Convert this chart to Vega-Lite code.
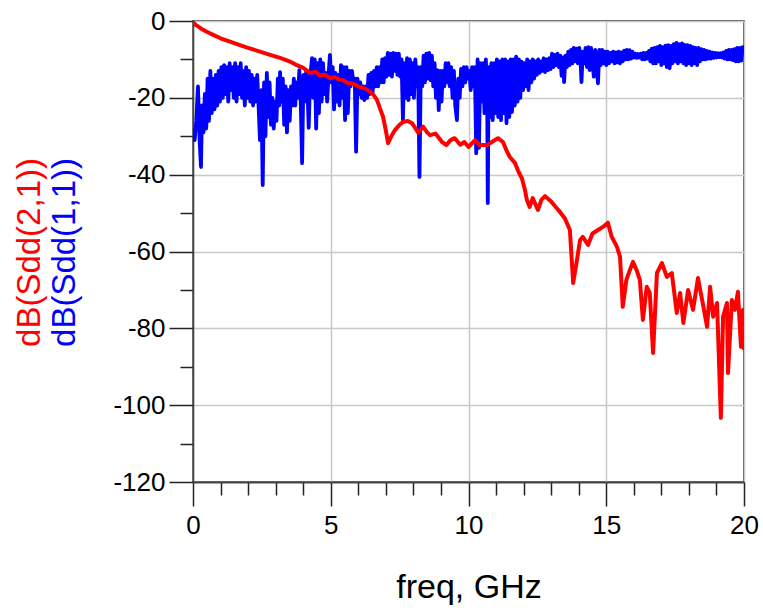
{
  "$schema": "https://vega.github.io/schema/vega-lite/v6.json",
  "width": 551,
  "height": 461,
  "autosize": {"type": "none"},
  "padding": {"left": 193, "top": 21, "right": 19, "bottom": 128},
  "background": "white",
  "config": {
    "font": "Liberation Sans",
    "view": {"stroke": "#222222", "strokeWidth": 1.5}
  },
  "datasets": {
    "s11": [
      {"f":0.00,"v":-28},{"f":0.06,"v":-31},{"f":0.12,"v":-26},{"f":0.18,"v":-17},{"f":0.24,"v":-31},{"f":0.29,"v":-38},{"f":0.33,"v":-22},{"f":0.38,"v":-29},{"f":0.43,"v":-19},{"f":0.48,"v":-28},
      {"f":0.53,"v":-15},{"f":0.58,"v":-26},{"f":0.63,"v":-13},{"f":0.68,"v":-24},{"f":0.73,"v":-15},{"f":0.78,"v":-23},{"f":0.83,"v":-14},{"f":0.88,"v":-22},{"f":0.93,"v":-13},{"f":0.98,"v":-21},
      {"f":1.03,"v":-12},{"f":1.08,"v":-20},{"f":1.13,"v":-11.5},{"f":1.18,"v":-19},{"f":1.23,"v":-12},{"f":1.28,"v":-21},{"f":1.33,"v":-11},{"f":1.38,"v":-18},{"f":1.43,"v":-12},{"f":1.48,"v":-20},
      {"f":1.53,"v":-11},{"f":1.58,"v":-21},{"f":1.63,"v":-12},{"f":1.68,"v":-19},{"f":1.73,"v":-11},{"f":1.78,"v":-20},{"f":1.83,"v":-13},{"f":1.88,"v":-22},{"f":1.93,"v":-12},{"f":1.98,"v":-20},
      {"f":2.03,"v":-13},{"f":2.08,"v":-21},{"f":2.13,"v":-14},{"f":2.18,"v":-22},{"f":2.23,"v":-15},{"f":2.28,"v":-21},{"f":2.33,"v":-14},{"f":2.38,"v":-22},{"f":2.43,"v":-31},{"f":2.48,"v":-18},
      {"f":2.53,"v":-42.7},{"f":2.58,"v":-16},{"f":2.63,"v":-30},{"f":2.68,"v":-13.5},{"f":2.73,"v":-25},{"f":2.78,"v":-16},{"f":2.83,"v":-27},{"f":2.88,"v":-20},{"f":2.93,"v":-28},{"f":2.98,"v":-21},
      {"f":3.03,"v":-26},{"f":3.08,"v":-15},{"f":3.13,"v":-22},{"f":3.16,"v":-13.3},{"f":3.21,"v":-21},{"f":3.26,"v":-15},{"f":3.31,"v":-27},{"f":3.36,"v":-17},{"f":3.41,"v":-29},{"f":3.46,"v":-18},
      {"f":3.51,"v":-26},{"f":3.56,"v":-17},{"f":3.61,"v":-22},{"f":3.66,"v":-15},{"f":3.71,"v":-22},{"f":3.76,"v":-16},{"f":3.81,"v":-20},{"f":3.86,"v":-12.8},{"f":3.91,"v":-21},{"f":3.96,"v":-37},
      {"f":4.01,"v":-14},{"f":4.06,"v":-21},{"f":4.11,"v":-13},{"f":4.16,"v":-19},{"f":4.20,"v":-27.8},{"f":4.25,"v":-15},{"f":4.32,"v":-9.7},{"f":4.37,"v":-20},{"f":4.42,"v":-10},{"f":4.47,"v":-28},
      {"f":4.52,"v":-11},{"f":4.57,"v":-24},{"f":4.62,"v":-10},{"f":4.67,"v":-21},{"f":4.72,"v":-11},{"f":4.77,"v":-19},{"f":4.82,"v":-13.5},{"f":4.87,"v":-21},{"f":4.92,"v":-14},{"f":4.97,"v":-8.8},
      {"f":5.02,"v":-16},{"f":5.07,"v":-12},{"f":5.12,"v":-23},{"f":5.17,"v":-13.5},{"f":5.22,"v":-21},{"f":5.27,"v":-14},{"f":5.32,"v":-22},{"f":5.37,"v":-11.5},{"f":5.42,"v":-20},{"f":5.47,"v":-12},
      {"f":5.52,"v":-25.8},{"f":5.57,"v":-12},{"f":5.62,"v":-24},{"f":5.67,"v":-13},{"f":5.72,"v":-17},{"f":5.77,"v":-13},{"f":5.82,"v":-16},{"f":5.87,"v":-15},{"f":5.92,"v":-34},{"f":5.97,"v":-15},
      {"f":6.02,"v":-19},{"f":6.07,"v":-16},{"f":6.12,"v":-20},{"f":6.17,"v":-17},{"f":6.22,"v":-20.6},{"f":6.27,"v":-17},{"f":6.32,"v":-20},{"f":6.37,"v":-14},{"f":6.42,"v":-19},{"f":6.47,"v":-13.5},
      {"f":6.52,"v":-18.5},{"f":6.57,"v":-13},{"f":6.62,"v":-17},{"f":6.67,"v":-12},{"f":6.72,"v":-17},{"f":6.77,"v":-12},{"f":6.82,"v":-16},{"f":6.87,"v":-10},{"f":6.92,"v":-16},{"f":6.97,"v":-9.7},
      {"f":7.02,"v":-14.5},{"f":7.07,"v":-8.3},{"f":7.12,"v":-14},{"f":7.17,"v":-8.5},{"f":7.22,"v":-14.5},{"f":7.27,"v":-8.3},{"f":7.32,"v":-13},{"f":7.37,"v":-8.5},{"f":7.42,"v":-14},{"f":7.47,"v":-8.5},
      {"f":7.52,"v":-14.5},{"f":7.57,"v":-10},{"f":7.62,"v":-25.8},{"f":7.67,"v":-11},{"f":7.72,"v":-20},{"f":7.77,"v":-9.7},{"f":7.82,"v":-20.6},{"f":7.87,"v":-10},{"f":7.92,"v":-19},{"f":7.97,"v":-11},
      {"f":8.02,"v":-20},{"f":8.07,"v":-10},{"f":8.12,"v":-17},{"f":8.17,"v":-12},{"f":8.22,"v":-40.6},{"f":8.27,"v":-12},{"f":8.32,"v":-17},{"f":8.37,"v":-9},{"f":8.42,"v":-16},{"f":8.47,"v":-8.5},
      {"f":8.52,"v":-15},{"f":8.57,"v":-8.3},{"f":8.62,"v":-15.4},{"f":8.67,"v":-9},{"f":8.72,"v":-17},{"f":8.77,"v":-11},{"f":8.82,"v":-20},{"f":8.87,"v":-12.8},{"f":8.92,"v":-23.2},{"f":8.97,"v":-13},
      {"f":9.02,"v":-21},{"f":9.07,"v":-13},{"f":9.12,"v":-17},{"f":9.17,"v":-11},{"f":9.22,"v":-16},{"f":9.27,"v":-11},{"f":9.32,"v":-17},{"f":9.37,"v":-12},{"f":9.42,"v":-20},{"f":9.47,"v":-13},
      {"f":9.52,"v":-22},{"f":9.58,"v":-25.8},{"f":9.63,"v":-15},{"f":9.68,"v":-20},{"f":9.73,"v":-12.5},{"f":9.78,"v":-17},{"f":9.83,"v":-12},{"f":9.88,"v":-16},{"f":9.93,"v":-12},{"f":9.98,"v":-15},
      {"f":10.03,"v":-13},{"f":10.08,"v":-18},{"f":10.13,"v":-12},{"f":10.18,"v":-17},{"f":10.23,"v":-12},{"f":10.28,"v":-34.4},{"f":10.33,"v":-10},{"f":10.38,"v":-33},{"f":10.43,"v":-11},{"f":10.48,"v":-21},
      {"f":10.53,"v":-11},{"f":10.58,"v":-24},{"f":10.63,"v":-10},{"f":10.68,"v":-22},{"f":10.70,"v":-47.4},{"f":10.73,"v":-12},{"f":10.78,"v":-25},{"f":10.83,"v":-11},{"f":10.88,"v":-25.8},{"f":10.93,"v":-11},
      {"f":10.98,"v":-24},{"f":11.03,"v":-10},{"f":11.08,"v":-25},{"f":11.13,"v":-10.5},{"f":11.18,"v":-25.8},{"f":11.23,"v":-10},{"f":11.28,"v":-24},{"f":11.33,"v":-10},{"f":11.38,"v":-26.6},{"f":11.43,"v":-10.5},
      {"f":11.48,"v":-25},{"f":11.53,"v":-10},{"f":11.58,"v":-23.7},{"f":11.63,"v":-10},{"f":11.68,"v":-22},{"f":11.73,"v":-9.3},{"f":11.78,"v":-21},{"f":11.83,"v":-10},{"f":11.88,"v":-20},{"f":11.93,"v":-10.6},
      {"f":11.98,"v":-18},{"f":12.03,"v":-11},{"f":12.08,"v":-17},{"f":12.13,"v":-10},{"f":12.18,"v":-18},{"f":12.23,"v":-10.5},{"f":12.28,"v":-16},{"f":12.33,"v":-10},{"f":12.38,"v":-15},{"f":12.43,"v":-10.5},
      {"f":12.48,"v":-14},{"f":12.53,"v":-10},{"f":12.58,"v":-13.5},{"f":12.63,"v":-10.5},{"f":12.68,"v":-13},{"f":12.73,"v":-9.7},{"f":12.78,"v":-13.3},{"f":12.83,"v":-10},{"f":12.88,"v":-12.8},{"f":12.93,"v":-9.7},
      {"f":12.98,"v":-12.5},{"f":13.03,"v":-8.5},{"f":13.08,"v":-12},{"f":13.13,"v":-8.8},{"f":13.18,"v":-11.5},{"f":13.23,"v":-8.5},{"f":13.28,"v":-12},{"f":13.33,"v":-9},{"f":13.38,"v":-14.3},{"f":13.43,"v":-9.5},
      {"f":13.47,"v":-15.9},{"f":13.52,"v":-9},{"f":13.57,"v":-12},{"f":13.62,"v":-8},{"f":13.67,"v":-11.5},{"f":13.72,"v":-7.5},{"f":13.77,"v":-11},{"f":13.82,"v":-7},{"f":13.87,"v":-10.5},{"f":13.92,"v":-7.2},
      {"f":13.97,"v":-11},{"f":14.02,"v":-7},{"f":14.07,"v":-10.5},{"f":14.10,"v":-15.9},{"f":14.15,"v":-8},{"f":14.20,"v":-11},{"f":14.25,"v":-7},{"f":14.30,"v":-12},{"f":14.35,"v":-6.8},{"f":14.40,"v":-12.8},
      {"f":14.45,"v":-7},{"f":14.50,"v":-11},{"f":14.55,"v":-14.5},{"f":14.60,"v":-7.5},{"f":14.65,"v":-12},{"f":14.70,"v":-16.2},{"f":14.75,"v":-7.5},{"f":14.80,"v":-11.5},{"f":14.85,"v":-7.5},{"f":14.90,"v":-11},
      {"f":14.95,"v":-8},{"f":15.00,"v":-11.5},{"f":15.05,"v":-8},{"f":15.10,"v":-11},{"f":15.15,"v":-8.3},{"f":15.20,"v":-10.5},{"f":15.25,"v":-8},{"f":15.30,"v":-11},{"f":15.35,"v":-8.2},{"f":15.40,"v":-10.8},
      {"f":15.45,"v":-8},{"f":15.50,"v":-11},{"f":15.55,"v":-8.2},{"f":15.60,"v":-10.5},{"f":15.65,"v":-7.7},{"f":15.70,"v":-10},{"f":15.75,"v":-7.5},{"f":15.80,"v":-10},{"f":15.85,"v":-7.6},{"f":15.90,"v":-9.8},
      {"f":15.95,"v":-8},{"f":16.00,"v":-9.5},{"f":16.05,"v":-8.5},{"f":16.10,"v":-9.6},{"f":16.15,"v":-8.6},{"f":16.20,"v":-9.5},{"f":16.25,"v":-8.5},{"f":16.30,"v":-10},{"f":16.35,"v":-8.3},{"f":16.40,"v":-10},
      {"f":16.45,"v":-8.3},{"f":16.50,"v":-9.8},{"f":16.55,"v":-7.8},{"f":16.60,"v":-10.5},{"f":16.65,"v":-7.2},{"f":16.70,"v":-11},{"f":16.75,"v":-7},{"f":16.80,"v":-11},{"f":16.85,"v":-6.8},{"f":16.90,"v":-10.5},
      {"f":16.95,"v":-6.5},{"f":17.00,"v":-11.5},{"f":17.05,"v":-6.8},{"f":17.10,"v":-11},{"f":17.15,"v":-6.4},{"f":17.20,"v":-12},{"f":17.25,"v":-6.3},{"f":17.30,"v":-12.3},{"f":17.35,"v":-6.5},{"f":17.40,"v":-11},
      {"f":17.45,"v":-6},{"f":17.50,"v":-10.5},{"f":17.55,"v":-5.7},{"f":17.60,"v":-11},{"f":17.65,"v":-6},{"f":17.70,"v":-10.5},{"f":17.75,"v":-5.8},{"f":17.80,"v":-11},{"f":17.85,"v":-6.2},{"f":17.90,"v":-11.5},
      {"f":17.95,"v":-6.3},{"f":18.00,"v":-11},{"f":18.05,"v":-6.5},{"f":18.10,"v":-11.5},{"f":18.15,"v":-6.8},{"f":18.20,"v":-11},{"f":18.25,"v":-7},{"f":18.30,"v":-11.5},{"f":18.35,"v":-7},{"f":18.40,"v":-10.5},
      {"f":18.45,"v":-7.3},{"f":18.50,"v":-10},{"f":18.55,"v":-7.5},{"f":18.60,"v":-10},{"f":18.65,"v":-7.8},{"f":18.70,"v":-9.8},{"f":18.75,"v":-8},{"f":18.80,"v":-9.8},{"f":18.85,"v":-8.2},{"f":18.90,"v":-9.6},
      {"f":18.95,"v":-8.3},{"f":19.00,"v":-9.5},{"f":19.05,"v":-8.4},{"f":19.10,"v":-9.4},{"f":19.15,"v":-8.4},{"f":19.20,"v":-9.5},{"f":19.25,"v":-8.2},{"f":19.30,"v":-9.8},{"f":19.35,"v":-7.8},{"f":19.40,"v":-10},
      {"f":19.45,"v":-7.5},{"f":19.50,"v":-10},{"f":19.55,"v":-7.5},{"f":19.60,"v":-10.2},{"f":19.65,"v":-7.3},{"f":19.70,"v":-10.5},{"f":19.75,"v":-7},{"f":19.80,"v":-10.5},{"f":19.85,"v":-7},{"f":19.90,"v":-10.3},
      {"f":19.95,"v":-6.8},{"f":20.00,"v":-8}
    ],
    "s21": [
      {"f":0,"v":-0.3},{"f":0.1,"v":-1.0},{"f":0.3,"v":-2.0},{"f":0.5,"v":-2.8},{"f":0.73,"v":-3.6},{"f":1.0,"v":-4.5},{"f":1.34,"v":-5.4},{"f":1.7,"v":-6.3},{"f":2.0,"v":-7.0},{"f":2.4,"v":-7.9},
      {"f":2.8,"v":-8.8},{"f":3.16,"v":-9.6},{"f":3.5,"v":-10.5},{"f":3.77,"v":-11.5},{"f":4.0,"v":-12.2},{"f":4.25,"v":-13.5},{"f":4.45,"v":-13.2},{"f":4.6,"v":-14.2},{"f":4.8,"v":-14.0},{"f":4.97,"v":-14.9},
      {"f":5.15,"v":-14.6},{"f":5.3,"v":-15.2},{"f":5.45,"v":-15.4},{"f":5.6,"v":-16.1},{"f":5.8,"v":-16.3},{"f":6.06,"v":-17.2},{"f":6.25,"v":-17.6},{"f":6.42,"v":-18.4},{"f":6.55,"v":-19.2},{"f":6.68,"v":-20.6},
      {"f":6.8,"v":-23},{"f":6.9,"v":-25},{"f":7.0,"v":-28.5},{"f":7.08,"v":-31.8},{"f":7.2,"v":-30},{"f":7.33,"v":-28.4},{"f":7.5,"v":-27},{"f":7.62,"v":-26.3},{"f":7.8,"v":-26},{"f":7.95,"v":-26.6},
      {"f":8.08,"v":-28},{"f":8.17,"v":-29.1},{"f":8.35,"v":-27.5},{"f":8.5,"v":-29},{"f":8.6,"v":-29.7},{"f":8.8,"v":-29.3},{"f":9.04,"v":-31.5},{"f":9.2,"v":-32.3},{"f":9.35,"v":-31},{"f":9.5,"v":-30.5},
      {"f":9.7,"v":-32.2},{"f":9.85,"v":-31.5},{"f":10.0,"v":-32.8},{"f":10.24,"v":-31},{"f":10.4,"v":-32.3},{"f":10.67,"v":-32.3},{"f":10.85,"v":-31.5},{"f":11.07,"v":-30.5},{"f":11.25,"v":-31.5},{"f":11.4,"v":-34},
      {"f":11.5,"v":-35.4},{"f":11.69,"v":-37},{"f":11.8,"v":-39},{"f":11.94,"v":-41},{"f":12.05,"v":-44},{"f":12.12,"v":-46.6},{"f":12.22,"v":-48.4},{"f":12.33,"v":-46.1},{"f":12.52,"v":-49.2},{"f":12.65,"v":-46.5},
      {"f":12.78,"v":-45.6},{"f":13.0,"v":-47},{"f":13.15,"v":-48.3},{"f":13.32,"v":-49.7},{"f":13.5,"v":-51.4},{"f":13.68,"v":-54.4},{"f":13.8,"v":-68.2},{"f":13.92,"v":-63},{"f":14.05,"v":-57},{"f":14.15,"v":-56.2},
      {"f":14.34,"v":-58.3},{"f":14.5,"v":-55.3},{"f":14.7,"v":-54.4},{"f":14.88,"v":-53.6},{"f":15.06,"v":-52.5},{"f":15.2,"v":-56.2},{"f":15.39,"v":-58.8},{"f":15.5,"v":-61.4},{"f":15.6,"v":-74.4},{"f":15.73,"v":-67.4},
      {"f":15.86,"v":-64.8},{"f":15.97,"v":-62.7},{"f":16.1,"v":-64.8},{"f":16.22,"v":-67.4},{"f":16.33,"v":-77.8},{"f":16.47,"v":-69.2},{"f":16.58,"v":-70.8},{"f":16.7,"v":-86.4},{"f":16.84,"v":-65.6},{"f":17.02,"v":-63},
      {"f":17.2,"v":-66.6},{"f":17.38,"v":-65.6},{"f":17.56,"v":-76},{"f":17.68,"v":-70.8},{"f":17.8,"v":-78.6},{"f":17.97,"v":-70},{"f":18.15,"v":-75.2},{"f":18.33,"v":-66.9},{"f":18.5,"v":-73.4},{"f":18.66,"v":-79.6},
      {"f":18.77,"v":-69.2},{"f":18.88,"v":-77},{"f":19.02,"v":-73.4},{"f":19.07,"v":-83.8},{"f":19.16,"v":-103.3},{"f":19.24,"v":-77},{"f":19.38,"v":-73.4},{"f":19.42,"v":-91.6},{"f":19.56,"v":-72.6},{"f":19.67,"v":-75.2},
      {"f":19.78,"v":-70.5},{"f":19.89,"v":-84.8},{"f":19.96,"v":-75.2},{"f":20.0,"v":-85.6}
    ]
  },
  "layer": [
    {
      "data": {"name": "s11"},
      "mark": {"type": "line", "color": "#0000ff", "strokeWidth": 3.8, "strokeJoin": "round", "clip": true},
      "encoding": {
        "x": {
          "field": "f", "type": "quantitative",
          "scale": {"domain": [0, 20], "nice": false, "zero": false},
          "axis": {
            "orient": "bottom",
            "values": [1,2,3,4,6,7,8,9,11,12,13,14,16,17,18,19],
            "labels": false, "grid": false, "title": null,
            "tickSize": 13, "tickColor": "#222222", "tickWidth": 1.5,
            "domainColor": "#444444", "domainWidth": 1.5
          }
        },
        "y": {
          "field": "v", "type": "quantitative",
          "scale": {"domain": [-120, 0], "nice": false, "zero": false},
          "axis": {
            "orient": "left",
            "values": [-110,-90,-70,-50,-30,-10],
            "labels": false, "grid": false, "domain": false,
            "tickSize": 13, "tickColor": "#222222", "tickWidth": 1.5,
            "title": "dB(Sdd(1,1))", "titleColor": "#0000ff", "titleFontSize": 33, "titleFontWeight": "normal",
            "titleAngle": 270, "titleBaseline": "alphabetic", "titleAlign": "center", "titleX": -119, "titleY": 231
          }
        }
      }
    },
    {
      "data": {"name": "s21"},
      "mark": {"type": "line", "color": "#ff0000", "strokeWidth": 4, "strokeJoin": "round", "clip": true},
      "encoding": {
        "x": {
          "field": "f", "type": "quantitative",
          "axis": {
            "orient": "bottom",
            "values": [0,5,10,15,20],
            "labelOverlap": false, "labelFlush": false,
            "labelFontSize": 26, "labelColor": "#000000", "labelPadding": 6,
            "tickSize": 24, "tickColor": "#222222", "tickWidth": 1.5,
            "domainColor": "#444444", "domainWidth": 1.5,
            "grid": true, "gridColor": "#c8c8c8", "gridWidth": 1.5,
            "title": "freq, GHz", "titleFontSize": 34, "titleFontWeight": "normal", "titleColor": "#000000",
            "titleBaseline": "alphabetic", "titleY": 115
          }
        },
        "y": {
          "field": "v", "type": "quantitative",
          "axis": {
            "orient": "left",
            "values": [-120,-100,-80,-60,-40,-20,0],
            "labelExpr": "replace(datum.label, '−', '-')",
            "labelOverlap": false, "labelFlush": false,
            "labelFontSize": 26, "labelColor": "#000000", "labelPadding": 4,
            "tickSize": 24, "tickColor": "#222222", "tickWidth": 1.5,
            "domainColor": "#444444", "domainWidth": 1.5,
            "grid": true, "gridColor": "#c8c8c8", "gridWidth": 1.5,
            "title": "dB(Sdd(2,1))", "titleColor": "#ff0000", "titleFontSize": 33, "titleFontWeight": "normal",
            "titleAngle": 270, "titleBaseline": "alphabetic", "titleAlign": "center", "titleX": -154, "titleY": 231
          }
        }
      }
    }
  ],
  "resolve": {"axis": {"x": "independent", "y": "independent"}}
}
